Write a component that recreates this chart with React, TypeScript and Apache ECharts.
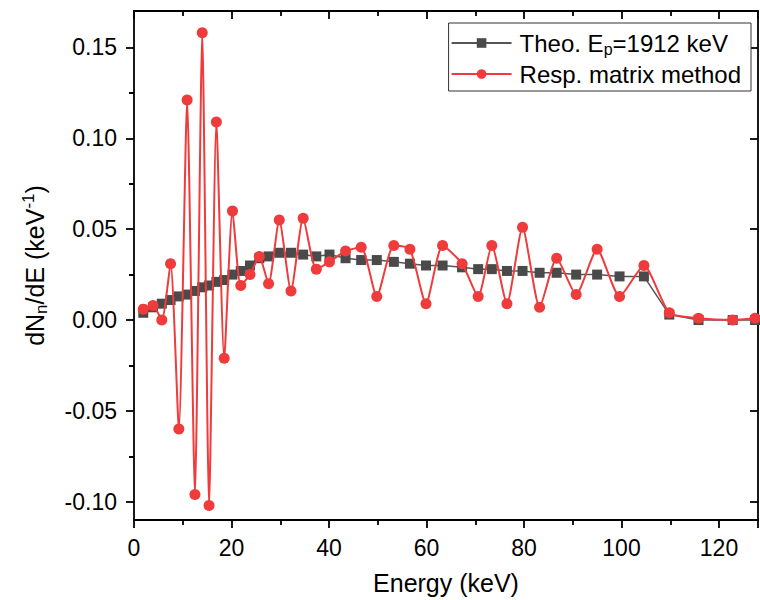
import React, { useEffect, useRef } from "react";
import * as echarts from "echarts";

const energy = [1.9, 3.9, 5.7, 7.5, 9.2, 10.9, 12.5, 14.0, 15.4, 16.9, 18.5, 20.2, 21.9, 23.8, 25.7, 27.6, 29.8, 32.2, 34.7, 37.4, 40.1, 43.4, 46.6, 49.8, 53.3, 56.6, 59.9, 63.3, 67.3, 70.6, 73.4, 76.5, 79.7, 83.2, 86.7, 90.7, 95.0, 99.6, 104.6, 109.8, 115.8, 122.8, 127.4];
const theo = [0.004, 0.007, 0.009, 0.011, 0.013, 0.014, 0.016, 0.018, 0.019, 0.021, 0.022, 0.025, 0.027, 0.030, 0.034, 0.035, 0.037, 0.037, 0.036, 0.035, 0.036, 0.034, 0.033, 0.033, 0.032, 0.031, 0.030, 0.030, 0.029, 0.028, 0.028, 0.027, 0.027, 0.026, 0.026, 0.025, 0.025, 0.024, 0.024, 0.003, 0.000, 0.000, 0.000];
const resp = [0.006, 0.008, 0.000, 0.031, -0.060, 0.121, -0.096, 0.158, -0.102, 0.109, -0.021, 0.060, 0.019, 0.025, 0.035, 0.020, 0.055, 0.016, 0.056, 0.028, 0.032, 0.038, 0.040, 0.013, 0.041, 0.039, 0.009, 0.041, 0.031, 0.013, 0.041, 0.009, 0.051, 0.007, 0.034, 0.014, 0.039, 0.013, 0.030, 0.004, 0.001, 0.000, 0.001];
const yMajorTicks = [-0.10, -0.05, 0.0, 0.05, 0.10, 0.15];
const yMinorTicks = [-0.075, -0.025, 0.025, 0.075, 0.125];

const FONT = "Liberation Sans, Arial, sans-serif";

export default function App() {
  const ref = useRef<HTMLDivElement>(null);
  useEffect(() => {
    if (!ref.current) return;
    const chart = echarts.init(ref.current, null, { renderer: "svg" });
    const black = "#000";
    const LW = 1.8;
    const yBase = { type: "value", min: -0.11, max: 0.17, splitLine: { show: false } };
    const xBase = { type: "value", min: 0, max: 128, interval: 20, splitLine: { show: false } };
    chart.setOption({
      animation: false,
      backgroundColor: "#fff",
      textStyle: { fontFamily: FONT },
      grid: { left: 134, right: 2, top: 11, bottom: 80, containLabel: false, outerBoundsMode: "none" },
      legend: {
        right: 9,
        top: 23,
        orient: "vertical",
        backgroundColor: "#fff",
        borderColor: "#333",
        borderWidth: 1,
        borderRadius: 0,
        padding: [8, 10, 5, 2],
        itemWidth: 60,
        itemHeight: 12,
        itemGap: 5,
        data: ["Theo", "Resp"],
        formatter: (name: string) =>
          name === "Theo" ? "{t|Theo. E}{s|p}{t|=1912 keV}" : "{t|Resp. matrix method}",
        textStyle: {
          fontFamily: FONT,
          color: "#000",
          fontSize: 24,
          padding: [0, 0, 0, 3],
          rich: {
            t: { fontSize: 24, lineHeight: 28, fontFamily: FONT, color: "#000" },
            s: { fontSize: 16, lineHeight: 14, verticalAlign: "bottom", fontFamily: FONT, color: "#000" },
          },
        },
      },
      xAxis: [
        {
          ...xBase,
          position: "bottom",
          name: "Energy (keV)",
          nameLocation: "middle",
          nameGap: 50,
          nameTextStyle: { fontSize: 25, color: "#000", fontFamily: FONT },
          axisLine: { show: true, onZero: false, lineStyle: { color: black, width: LW } },
          axisTick: { show: true, inside: false, length: 8, lineStyle: { color: black, width: LW } },
          minorTick: { show: true, splitNumber: 2, length: 5, lineStyle: { color: black, width: LW } },
          axisLabel: { fontSize: 23, color: "#000", margin: 16, fontFamily: FONT, showMaxLabel: false },
        },
        {
          ...xBase,
          position: "top",
          axisLine: { show: true, onZero: false, lineStyle: { color: black, width: LW } },
          axisTick: { show: true, inside: true, length: 8, lineStyle: { color: black, width: LW } },
          minorTick: { show: true, splitNumber: 2, length: 5, lineStyle: { color: black, width: LW } },
          axisLabel: { show: false },
        },
      ],
      yAxis: [
        {
          ...yBase,
          position: "left",
          name: "{t|dN}{s|n}{t|/dE (keV}{u|-1}{t|)}",
          nameLocation: "middle",
          nameRotate: 90,
          nameGap: 84,
          nameTextStyle: {
            fontFamily: FONT,
            color: "#000",
            fontSize: 25,
            rich: {
              t: { fontSize: 25, lineHeight: 30, fontFamily: FONT, color: "#000" },
              s: { fontSize: 17, lineHeight: 16, verticalAlign: "bottom", fontFamily: FONT, color: "#000" },
              u: { fontSize: 17, lineHeight: 16, verticalAlign: "top", fontFamily: FONT, color: "#000" },
            },
          },
          axisLine: { show: true, onZero: false, lineStyle: { color: black, width: LW } },
          axisTick: { show: true, inside: false, length: 8, customValues: yMajorTicks, lineStyle: { color: black, width: LW } },
          axisLabel: {
            fontSize: 23,
            color: "#000",
            margin: 17,
            fontFamily: FONT,
            customValues: yMajorTicks,
            formatter: (v: number) => v.toFixed(2),
          },
        },
        {
          ...yBase,
          position: "left",
          axisLine: { show: false },
          axisTick: { show: true, inside: false, length: 5, customValues: yMinorTicks, lineStyle: { color: black, width: LW } },
          axisLabel: { show: false },
        },
        {
          ...yBase,
          position: "right",
          axisLine: { show: true, onZero: false, lineStyle: { color: black, width: LW } },
          axisTick: { show: true, inside: true, length: 8, customValues: yMajorTicks, lineStyle: { color: black, width: LW } },
          axisLabel: { show: false },
        },
        {
          ...yBase,
          position: "right",
          axisLine: { show: false },
          axisTick: { show: true, inside: true, length: 5, customValues: yMinorTicks, lineStyle: { color: black, width: LW } },
          axisLabel: { show: false },
        },
      ],
      series: [
        {
          name: "Theo",
          type: "line",
          xAxisIndex: 0,
          yAxisIndex: 0,
          data: energy.map((e, i) => [e, theo[i]]),
          symbol: "rect",
          symbolSize: 10,
          color: "#4a4a4a",
          lineStyle: { color: "#555", width: 1.5 },
          itemStyle: { color: "#4a4a4a" },
          z: 2,
        },
        {
          name: "Resp",
          type: "line",
          xAxisIndex: 0,
          yAxisIndex: 0,
          data: energy.map((e, i) => [e, resp[i]]),
          symbol: "circle",
          symbolSize: 11,
          smooth: 0.2,
          color: "#ef3b3b",
          lineStyle: { color: "#ef3b3b", width: 2 },
          itemStyle: { color: "#ef3b3b" },
          z: 3,
        },
      ],
    });
    return () => chart.dispose();
  }, []);
  return <div ref={ref} style={{ position: "fixed", left: 0, top: 0, width: 760, height: 600 }} />;
}
